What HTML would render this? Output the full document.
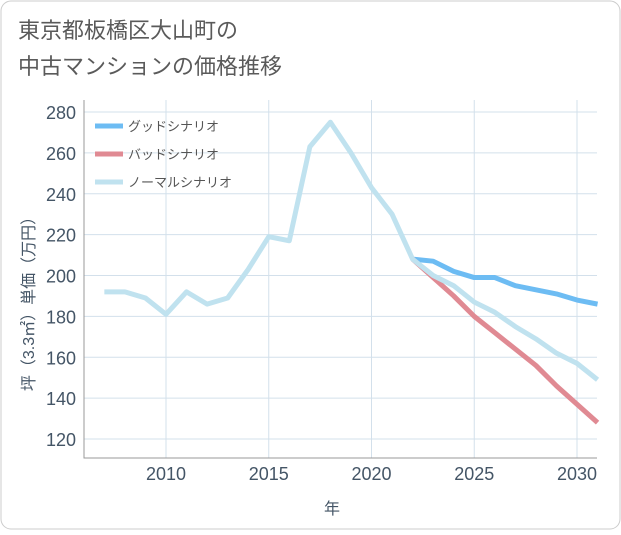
<!DOCTYPE html>
<html><head><meta charset="utf-8"><style>
body{margin:0;background:#fff;font-family:"Liberation Sans","Noto Sans CJK JP",sans-serif;}
#wrap{position:relative;width:621px;height:530px;}
</style></head><body>
<div id="wrap">
<svg id="chart" width="621" height="530" font-family="Liberation Sans, Noto Sans CJK JP, sans-serif">
<rect x="1" y="1" width="619" height="528" rx="10" fill="#fff" stroke="#ccc"/>
<text x="18" y="38" font-size="22" fill="#5a5a5a">東京都板橋区大山町の</text>
<text x="18" y="74" font-size="22" fill="#5a5a5a">中古マンションの価格推移</text>
<g id="grid"></g><g id="series"></g><g id="axes"></g>
<g>
<line x1="95" y1="126" x2="123" y2="126" stroke="#6dbcf3" stroke-width="5"/>
<text x="128" y="131" font-size="13" fill="#555">グッドシナリオ</text>
<line x1="95" y1="154" x2="123" y2="154" stroke="#e08a93" stroke-width="5"/>
<text x="128" y="159" font-size="13" fill="#555">バッドシナリオ</text>
<line x1="95" y1="182" x2="123" y2="182" stroke="#c0e2ef" stroke-width="5"/>
<text x="128" y="187" font-size="13" fill="#555">ノーマルシナリオ</text>
</g>
<text x="332" y="514" font-size="16" fill="#456" text-anchor="middle">年</text>
<text transform="translate(34,300) rotate(-90)" font-size="16" fill="#456" text-anchor="middle">坪（3.3㎡）単価（万円）</text>
</svg>
</div>
<script>
const years=[2007,2008,2009,2010,2011,2012,2013,2014,2015,2016,2017,2018,2019,2020,2021,2022,2023,2024,2025,2026,2027,2028,2029,2030,2031];
const normalValues=[192,192,189,181,192,186,189,203,219,217,263,275,260,243,230,208,200,195,187,182,175,169,162,157,149];
const goodYears=[2022,2023,2024,2025,2026,2027,2028,2029,2030,2031];
const goodValues=[208,207,202,199,199,195,193,191,188,186];
const badValues=[208,199,190,180,172,164,156,146,137,128];
const xTicks=[2010,2015,2020,2025,2030];
const yTicks=[120,140,160,180,200,220,240,260,280];
const L=84,R=597,T=100,B=458;
const x=v=>166+(v-2010)*(577-166)/20;
const y=v=>112+(280-v)*(439-112)/160;
const ns="http://www.w3.org/2000/svg";
function mk(tag,attrs,parent){const e=document.createElementNS(ns,tag);for(const k in attrs)e.setAttribute(k,attrs[k]);document.getElementById(parent).appendChild(e);return e;}
yTicks.forEach(t=>{
 const l=mk('line',{x1:L,x2:R,y1:y(t),y2:y(t),stroke:'#d3e0eb'},'grid');
 
 
 const tx=mk('text',{x:L-8,y:y(t)+7,'font-size':18,fill:'#456','text-anchor':'end'},'axes');
 tx.textContent=t;
 
 
});
xTicks.forEach(t=>{
 const l=mk('line',{x1:x(t),x2:x(t),y1:T,y2:B,stroke:'#d3e0eb'},'grid');
 
 
 const tx=mk('text',{x:x(t),y:B+22,'font-size':18,fill:'#456','text-anchor':'middle'},'axes');
 tx.textContent=t;
 
 
});
const ax=mk('path',{d:`M${L},${T}V${B}H${R}`,fill:'none',stroke:'#999'},'axes');


function line(xs,vs,color,name){
 const p=mk('polyline',{points:xs.map((v,i)=>x(v)+','+y(vs[i])).join(' '),fill:'none',stroke:color,'stroke-width':5,'stroke-linejoin':'round'},'series');
 
 
}
line(goodYears,goodValues,'#6dbcf3','good-scenario-line');
line(goodYears,badValues,'#e08a93','bad-scenario-line');
line(years,normalValues,'#c0e2ef','normal-scenario-line');
</script>
</body></html>
